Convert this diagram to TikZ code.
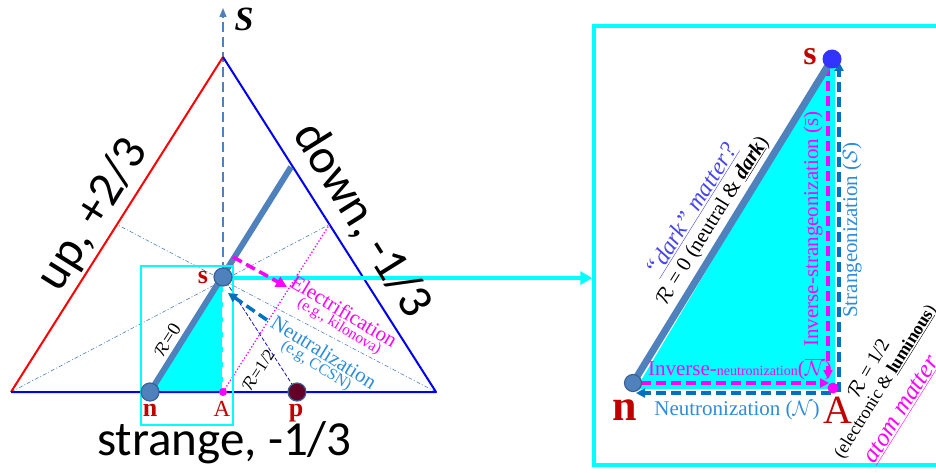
\documentclass[tikz,border=0pt]{standalone}
\usepackage{fontspec}
\setmainfont{Liberation Serif}
\newfontfamily\carlito{Carlito}
\usetikzlibrary{arrows.meta}
\definecolor{steel}{RGB}{79,129,189}
\definecolor{steeldark}{RGB}{60,96,150}
\definecolor{darkred}{RGB}{192,0,0}
\definecolor{midblue}{RGB}{0,112,192}
\definecolor{txtblue}{RGB}{46,140,220}
\definecolor{maroonp}{RGB}{100,0,40}
\definecolor{sblue}{RGB}{51,51,255}
\definecolor{dmblue}{RGB}{70,70,240}
\definecolor{navyd}{RGB}{20,20,170}
\definecolor{aqua}{RGB}{0,255,255}
\definecolor{pink}{RGB}{255,0,255}
\definecolor{pureblue}{RGB}{0,0,240}
\definecolor{purered}{RGB}{255,0,0}
\newcommand{\fs}[1]{\fontsize{#1}{#1}\selectfont}
\begin{document}
\begin{tikzpicture}[x=1pt,y=-1pt,
  every node/.style={inner sep=0pt},
  big/.style={font=\carlito\fs{49}},
  ptlbl/.style={text=darkred,font=\bfseries\fs{26}},
  ball/.style={circle,minimum size=18pt,fill=steel,draw=steeldark,line width=1.2pt},
  pinkdot/.style={circle,minimum size=8pt,fill=pink},
  median/.style={steel,line width=0.6pt,dash pattern=on 4pt off 2pt on 1pt off 2pt},
  magarr/.style={pink,line width=3.5pt,dash pattern=on 10pt off 5pt,-{Triangle[length=11pt,width=11pt]}},
  bluarr/.style={midblue,line width=3.5pt,dash pattern=on 10pt off 5pt,-{Triangle[length=9pt,width=9pt]}},
  magarrR/.style={pink,line width=3.5pt,dash pattern=on 10pt off 5pt,-{Triangle[length=9pt,width=9pt]}},
]
\useasboundingbox (0,0) rectangle (936,473);

% ---------------- left panel ----------------
\coordinate (T) at (223,57);
\coordinate (BL) at (11,392);
\coordinate (BR) at (436,392);
\coordinate (ML) at (117,224.5);
\coordinate (MR) at (329.5,224.5);
\coordinate (cn) at (150,392);
\coordinate (cs) at (223,277);
\coordinate (cA) at (223,392);
\coordinate (cp) at (297,392);
\coordinate (E) at (291,167);
\coordinate (axtop) at (223,8);

\fill[aqua] (cn) -- (cs) -- (cA) -- cycle;
\draw[median] (BL) -- (MR);
\draw[median] (BR) -- (ML);
\draw[steel,line width=1.3pt,dash pattern=on 10pt off 5pt,-{Triangle[length=9pt,width=7pt]}] (cA) -- (axtop);
\draw[white,line width=2pt,dash pattern=on 10pt off 5pt] (cA) -- (cs);
\draw[purered,line width=2pt] (BL) -- (T);
\draw[pureblue,line width=2pt,line join=round] (T) -- (BR) -- (BL);
\draw[navyd,line width=0.8pt,dash pattern=on 4pt off 2pt] (cs) -- (cp);
\draw[pink,line width=1.3pt,dash pattern=on 1.3pt off 2pt] (cA) -- (MR);
\draw[steel,line width=6pt] (cn) -- (E);

\node[draw=aqua,line width=2pt,minimum width=92pt,minimum height=159pt] (zoombox) at (187,345.5) {};
\node[draw=aqua,line width=3.5pt,minimum width=351pt,minimum height=439pt] (panel) at (769.5,245.5) {};
\coordinate (zr) at (233,278);
\draw[aqua,line width=3.5pt,-{Triangle[length=12pt,width=13pt]}] (zr) -- (zr -| panel.west);

\coordinate (m1) at (233,257);
\coordinate (m2) at (287,287);
\draw[magarr] (m1) -- (m2);
\coordinate (b1) at (267,320);
\coordinate (b2) at (228,293);
\draw[bluarr] (b1) -- (b2);

\node[ball] (n) at (cn) {};
\node[ball] (s) at (cs) {};
\node[ball,fill=maroonp] (p) at (cp) {};
\node[pinkdot] (A) at (cA) {};

\node[ptlbl] at (150,410) {n};
\node[ptlbl] at (203,278) {s};
\node[ptlbl] at (296,413) {p};
\node[text=darkred,font=\fs{23}] at (222,409) {A};
\node[font=\bfseries\itshape\fs{34}] at (244,19) {S};

\node[big,rotate=58] at (93,215) {up, +2/3};
\node[big,rotate=-58] at (362,220) {down, -1/3};
\node[big,anchor=base] at (224.5,455) {strange, -1/3};

\node[rotate=57,font=\fs{19}] at (167,340) {$\mathcal{R}$=0};
\node[rotate=57,font=\fs{17}] at (258,370) {$\mathcal{R}$=1/2};
\node[rotate=-31,text=pink,font=\fs{21}] at (344,311) {Electrification};
\node[rotate=-31,text=pink,font=\fs{15.5}] at (339,327) {(e.g., kilonova)};
\node[rotate=-32,text=txtblue,font=\fs{21}] at (324,352) {Neutralization};
\node[rotate=-32,text=txtblue,font=\fs{16}] at (316,366) {(e.g, CCSN)};

% ---------------- right panel ----------------
\coordinate (rn) at (633,383);
\coordinate (rs) at (832,59);
\coordinate (rA) at (833,388);
\fill[aqua] (636,389) -- (rs) -- (835,62) -- (835,389) -- cycle;

\coordinate (v1) at (828,66);  \coordinate (v2) at (828,379);
\coordinate (w1) at (839,392); \coordinate (w2) at (839,62);
\coordinate (h1) at (641,383); \coordinate (h2) at (829,383);
\coordinate (k1) at (831,393); \coordinate (k2) at (636,393);
\draw[magarrR] (v1) -- (v2);
\draw[bluarr] (w1) -- (w2);
\draw[magarrR] (h1) -- (h2);
\draw[bluarr] (k1) -- (k2);
\draw[steel,line width=7pt] (rn) -- (rs);

\node[ball,minimum size=17pt] (n2) at (rn) {};
\node[circle,fill=sblue,minimum size=19pt] (s2) at (rs) {};
\node[pinkdot,minimum size=11pt] (A2) at (rA) {};

\node[ptlbl,font=\bfseries\fs{34}] at (810,57) {s};
\node[ptlbl,font=\bfseries\fs{44}] at (625,410) {n};
\node[text=darkred,font=\fs{40}] at (838,410) {A};

\node[text=txtblue,font=\fs{21}] at (737,410) {Neutronization ($\mathcal{N}$)};
\node[text=pink,anchor=base] at (740,375) {\fs{21}Inverse-{\fs{14}neutronization}($\overline{\mathcal{N}}$)};
\node[rotate=90,text=pink,font=\fs{21}] at (813,229) {Inverse-strangeonization (\={s})};
\node[rotate=90,text=txtblue,font=\fs{21}] at (852,230) {Strangeonization ($\mathcal{S}$)};

\node[rotate=58,text=dmblue,font=\itshape\fs{24}] at (692,210) {\underline{“dark” matter?}};
\node[rotate=58,font=\fs{21}] at (713,221) {$\mathcal{R}$ = 0 (neutral \& \underline{\textbf{\textit{dark}}})};
\node[rotate=60,font=\fs{20}] at (868,368) {$\mathcal{R}$ = 1/2};
\node[rotate=58,font=\fs{18}] at (886,382) {(electronic \& \underline{\textbf{luminous}})};
\node[rotate=58,text=pink,font=\itshape\fs{25}] at (902,410) {\underline{atom matter}};
\end{tikzpicture}
\end{document}
